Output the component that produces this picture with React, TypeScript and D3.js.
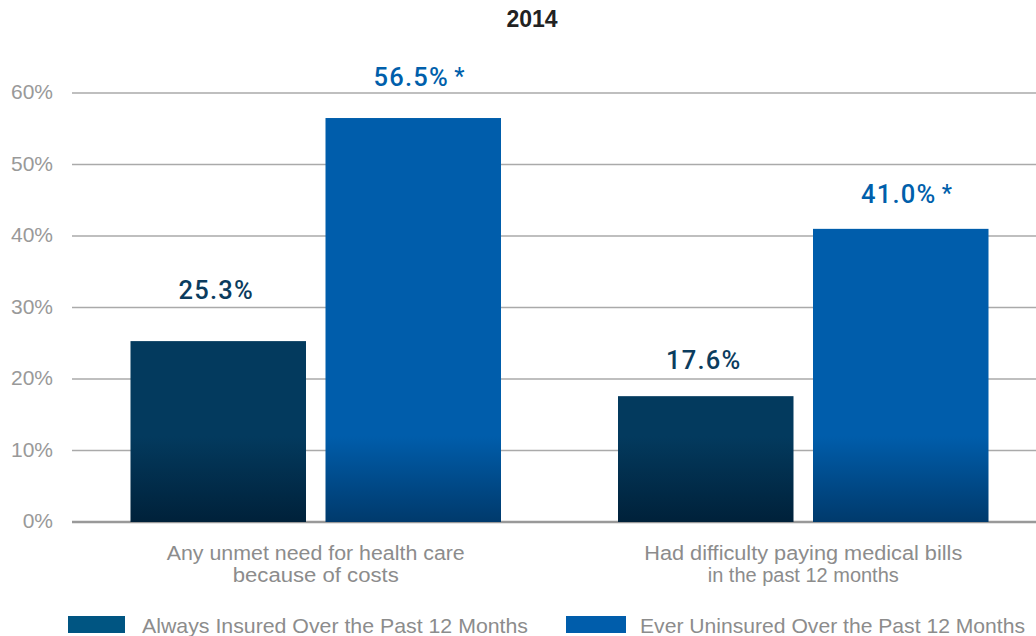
import React from "react";
import * as d3 from "d3";

const title = "2014";
const categories = ["Any unmet need for health care|because of costs", "Had difficulty paying medical bills|in the past 12 months"];
const seriesNames = ["Always Insured Over the Past 12 Months", "Ever Uninsured Over the Past 12 Months"];
const alwaysInsured = [25.3, 17.6];
const everUninsured = [56.5, 41.0];
const significant = [true, true];
const yTicks = [0, 10, 20, 30, 40, 50, 60];

// layout / style (not data)
const W = 1036, H = 636;
const M = { left: 72, right: -11, top: 93, bottom: 114 };
const barTopColors = ["#033a5e", "#005dab"];
const barBottomColors = ["#00213a", "#003a6c"];
const labelColors = ["#0b3c5e", "#005fab"];
const legendColors = ["#005582", "#005dab"];
const labelGap = [[42, 32], [27, 26]]; // [category][series] px above bar top
const catTextLen = [[298, 166], [318, 191]];
const legendTextLen = [386, 385];
const font = "'Liberation Sans', Arial, Helvetica, sans-serif";
const valueFont = "Roboto, 'Liberation Sans', Arial, sans-serif";

export default function App() {
  const x0 = d3.scaleBand<number>().domain(d3.range(categories.length)).range([M.left, W - M.right]).paddingInner(0.24).paddingOuter(0.12);
  const x1 = d3.scaleBand<number>().domain([0, 1]).range([0, x0.bandwidth()]).paddingInner(0.1).paddingOuter(0);
  const y = d3.scaleLinear().domain([0, 60]).range([522, 93]);
  const series = [alwaysInsured, everUninsured];

  return (
    <svg width={W} height={H} style={{ display: "block", position: "absolute", left: 0, top: 0 }} fontFamily={font}>
      <defs>
        {[0, 1].map((s) => (
          <linearGradient key={s} id={`g${s}`} gradientUnits="userSpaceOnUse" x1={0} x2={0} y1={y(12)} y2={y(0)}>
            <stop offset="0" stopColor={barTopColors[s]} />
            <stop offset="1" stopColor={barBottomColors[s]} />
          </linearGradient>
        ))}
      </defs>
      <text x={532} y={27} textAnchor="middle" fontSize={23} fontWeight="bold" fill="#222">{title}</text>
      {yTicks.map((t) => (
        <g key={t}>
          <line x1={M.left} x2={W} y1={y(t)} y2={y(t)} stroke={t === 0 ? "#999" : "#aaa"} strokeWidth={t === 0 ? 2.5 : 1.5} />
          <text x={53} y={y(t) + 6} textAnchor="end" fontSize={21} fill="#999">{t}%</text>
        </g>
      ))}
      {categories.map((c, ci) => (
        <g key={ci}>
          {series.map((vals, si) => {
            const bx = (x0(ci) as number) + (x1(si) as number);
            const bw = x1.bandwidth();
            const v = vals[ci];
            return (
              <g key={si}>
                <rect x={bx} y={y(v)} width={bw} height={y(0) - y(v)} fill={`url(#g${si})`} />
                <text x={bx + bw / 2 - 2} y={y(v) - labelGap[ci][si]} textAnchor="middle" fontFamily={valueFont} fontSize={25.5} fontWeight={500} fill={labelColors[si]} letterSpacing={1.2}>
                  {v.toFixed(1)}%
                </text>
                {si === 1 && significant[ci] && (
                  <text x={bx + bw / 2 + 41} y={y(v) - labelGap[ci][si] - 2} fontFamily={valueFont} fontSize={23} fontWeight={500} fill={labelColors[si]}>*</text>
                )}
              </g>
            );
          })}
          {c.split("|").map((line, li) => (
            <text key={li} x={(x0(ci) as number) + x0.bandwidth() / 2} y={560 + li * 22} textAnchor="middle" fontSize={20} fill="#8c8c8c" textLength={catTextLen[ci][li]} lengthAdjust="spacingAndGlyphs">
              {line}
            </text>
          ))}
        </g>
      ))}
      {seriesNames.map((n, i) => (
        <g key={i}>
          <rect x={i === 0 ? 68 : 566} y={616} width={i === 0 ? 57 : 60} height={17} fill={legendColors[i]} />
          <text x={i === 0 ? 142 : 640} y={633} fontSize={21} fill="#8c8c8c" textLength={legendTextLen[i]} lengthAdjust="spacingAndGlyphs">{n}</text>
        </g>
      ))}
    </svg>
  );
}
